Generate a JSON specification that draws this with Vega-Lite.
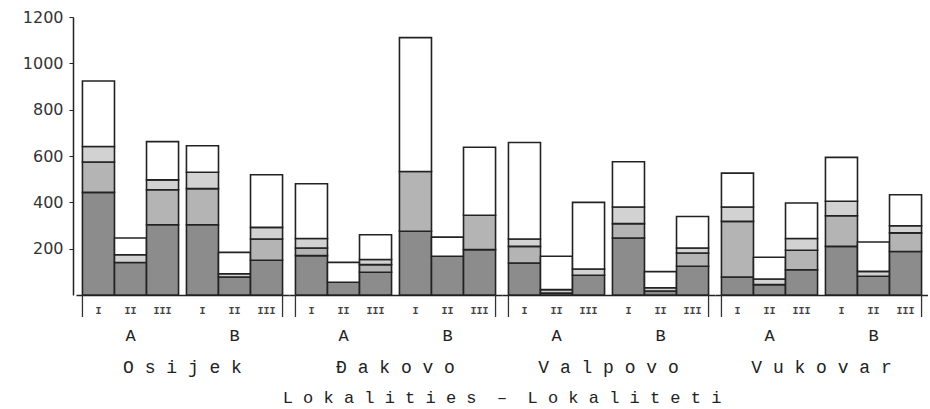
{
  "$schema": "https://vega.github.io/schema/vega-lite/v6.json",
  "padding": {"left": 22, "top": 9, "right": 0, "bottom": 0},
  "background": "#ffffff",
  "data": {"values": [
    {"locality":"Osijek","site":"A","period":"I","layer":"dark","o":1,"value":443},
    {"locality":"Osijek","site":"A","period":"I","layer":"medium","o":2,"value":131},
    {"locality":"Osijek","site":"A","period":"I","layer":"light","o":3,"value":67},
    {"locality":"Osijek","site":"A","period":"I","layer":"white","o":4,"value":283},
    {"locality":"Osijek","site":"A","period":"II","layer":"dark","o":1,"value":140},
    {"locality":"Osijek","site":"A","period":"II","layer":"light","o":3,"value":34},
    {"locality":"Osijek","site":"A","period":"II","layer":"white","o":4,"value":72},
    {"locality":"Osijek","site":"A","period":"III","layer":"dark","o":1,"value":303},
    {"locality":"Osijek","site":"A","period":"III","layer":"medium","o":2,"value":151},
    {"locality":"Osijek","site":"A","period":"III","layer":"light","o":3,"value":43},
    {"locality":"Osijek","site":"A","period":"III","layer":"white","o":4,"value":165},
    {"locality":"Osijek","site":"B","period":"I","layer":"dark","o":1,"value":303},
    {"locality":"Osijek","site":"B","period":"I","layer":"medium","o":2,"value":156},
    {"locality":"Osijek","site":"B","period":"I","layer":"light","o":3,"value":71},
    {"locality":"Osijek","site":"B","period":"I","layer":"white","o":4,"value":114},
    {"locality":"Osijek","site":"B","period":"II","layer":"dark","o":1,"value":78},
    {"locality":"Osijek","site":"B","period":"II","layer":"light","o":3,"value":14},
    {"locality":"Osijek","site":"B","period":"II","layer":"white","o":4,"value":92},
    {"locality":"Osijek","site":"B","period":"III","layer":"dark","o":1,"value":150},
    {"locality":"Osijek","site":"B","period":"III","layer":"medium","o":2,"value":92},
    {"locality":"Osijek","site":"B","period":"III","layer":"light","o":3,"value":50},
    {"locality":"Osijek","site":"B","period":"III","layer":"white","o":4,"value":227},
    {"locality":"Đakovo","site":"A","period":"I","layer":"dark","o":1,"value":170},
    {"locality":"Đakovo","site":"A","period":"I","layer":"medium","o":2,"value":33},
    {"locality":"Đakovo","site":"A","period":"I","layer":"light","o":3,"value":41},
    {"locality":"Đakovo","site":"A","period":"I","layer":"white","o":4,"value":236},
    {"locality":"Đakovo","site":"A","period":"II","layer":"dark","o":1,"value":55},
    {"locality":"Đakovo","site":"A","period":"II","layer":"white","o":4,"value":86},
    {"locality":"Đakovo","site":"A","period":"III","layer":"dark","o":1,"value":98},
    {"locality":"Đakovo","site":"A","period":"III","layer":"medium","o":2,"value":33},
    {"locality":"Đakovo","site":"A","period":"III","layer":"light","o":3,"value":22},
    {"locality":"Đakovo","site":"A","period":"III","layer":"white","o":4,"value":107},
    {"locality":"Đakovo","site":"B","period":"I","layer":"dark","o":1,"value":275},
    {"locality":"Đakovo","site":"B","period":"I","layer":"medium","o":2,"value":258},
    {"locality":"Đakovo","site":"B","period":"I","layer":"white","o":4,"value":578},
    {"locality":"Đakovo","site":"B","period":"II","layer":"dark","o":1,"value":167},
    {"locality":"Đakovo","site":"B","period":"II","layer":"white","o":4,"value":83},
    {"locality":"Đakovo","site":"B","period":"III","layer":"dark","o":1,"value":196},
    {"locality":"Đakovo","site":"B","period":"III","layer":"medium","o":2,"value":148},
    {"locality":"Đakovo","site":"B","period":"III","layer":"white","o":4,"value":294},
    {"locality":"Valpovo","site":"A","period":"I","layer":"dark","o":1,"value":138},
    {"locality":"Valpovo","site":"A","period":"I","layer":"medium","o":2,"value":72},
    {"locality":"Valpovo","site":"A","period":"I","layer":"light","o":3,"value":32},
    {"locality":"Valpovo","site":"A","period":"I","layer":"white","o":4,"value":416},
    {"locality":"Valpovo","site":"A","period":"II","layer":"dark","o":1,"value":8},
    {"locality":"Valpovo","site":"A","period":"II","layer":"light","o":3,"value":15},
    {"locality":"Valpovo","site":"A","period":"II","layer":"white","o":4,"value":144},
    {"locality":"Valpovo","site":"A","period":"III","layer":"dark","o":1,"value":85},
    {"locality":"Valpovo","site":"A","period":"III","layer":"light","o":3,"value":27},
    {"locality":"Valpovo","site":"A","period":"III","layer":"white","o":4,"value":288},
    {"locality":"Valpovo","site":"B","period":"I","layer":"dark","o":1,"value":246},
    {"locality":"Valpovo","site":"B","period":"I","layer":"medium","o":2,"value":62},
    {"locality":"Valpovo","site":"B","period":"I","layer":"light","o":3,"value":72},
    {"locality":"Valpovo","site":"B","period":"I","layer":"white","o":4,"value":195},
    {"locality":"Valpovo","site":"B","period":"II","layer":"dark","o":1,"value":17},
    {"locality":"Valpovo","site":"B","period":"II","layer":"light","o":3,"value":14},
    {"locality":"Valpovo","site":"B","period":"II","layer":"white","o":4,"value":70},
    {"locality":"Valpovo","site":"B","period":"III","layer":"dark","o":1,"value":124},
    {"locality":"Valpovo","site":"B","period":"III","layer":"medium","o":2,"value":57},
    {"locality":"Valpovo","site":"B","period":"III","layer":"light","o":3,"value":22},
    {"locality":"Valpovo","site":"B","period":"III","layer":"white","o":4,"value":136},
    {"locality":"Vukovar","site":"A","period":"I","layer":"dark","o":1,"value":78},
    {"locality":"Vukovar","site":"A","period":"I","layer":"medium","o":2,"value":240},
    {"locality":"Vukovar","site":"A","period":"I","layer":"light","o":3,"value":62},
    {"locality":"Vukovar","site":"A","period":"I","layer":"white","o":4,"value":146},
    {"locality":"Vukovar","site":"A","period":"II","layer":"dark","o":1,"value":45},
    {"locality":"Vukovar","site":"A","period":"II","layer":"light","o":3,"value":24},
    {"locality":"Vukovar","site":"A","period":"II","layer":"white","o":4,"value":94},
    {"locality":"Vukovar","site":"A","period":"III","layer":"dark","o":1,"value":109},
    {"locality":"Vukovar","site":"A","period":"III","layer":"medium","o":2,"value":84},
    {"locality":"Vukovar","site":"A","period":"III","layer":"light","o":3,"value":51},
    {"locality":"Vukovar","site":"A","period":"III","layer":"white","o":4,"value":153},
    {"locality":"Vukovar","site":"B","period":"I","layer":"dark","o":1,"value":210},
    {"locality":"Vukovar","site":"B","period":"I","layer":"medium","o":2,"value":132},
    {"locality":"Vukovar","site":"B","period":"I","layer":"light","o":3,"value":63},
    {"locality":"Vukovar","site":"B","period":"I","layer":"white","o":4,"value":189},
    {"locality":"Vukovar","site":"B","period":"II","layer":"dark","o":1,"value":81},
    {"locality":"Vukovar","site":"B","period":"II","layer":"light","o":3,"value":21},
    {"locality":"Vukovar","site":"B","period":"II","layer":"white","o":4,"value":127},
    {"locality":"Vukovar","site":"B","period":"III","layer":"dark","o":1,"value":188},
    {"locality":"Vukovar","site":"B","period":"III","layer":"medium","o":2,"value":80},
    {"locality":"Vukovar","site":"B","period":"III","layer":"light","o":3,"value":31},
    {"locality":"Vukovar","site":"B","period":"III","layer":"white","o":4,"value":134}
  ]},
  "facet": {
    "column": {
      "field": "locality",
      "type": "nominal",
      "sort": ["Osijek", "Đakovo", "Valpovo", "Vukovar"],
      "title": "L o k a l i t i e s\u00a0\u00a0–\u00a0\u00a0L o k a l i t e t i",
      "header": {
        "labelOrient": "bottom",
        "titleOrient": "bottom",
        "labelExpr": "join(split(datum.value, ''), ' ')",
        "labelFont": "Liberation Mono",
        "labelFontSize": 18,
        "labelColor": "#222222",
        "labelPadding": 16,
        "titleFont": "Liberation Mono",
        "titleFontSize": 17,
        "titleFontWeight": "normal",
        "titleColor": "#222222",
        "titlePadding": 3
      }
    }
  },
  "spacing": 0,
  "resolve": {"scale": {"x": "independent", "xOffset": "independent"}},
  "spec": {
    "width": 213,
    "height": 278,
    "encoding": {
      "x": {
        "field": "site", "type": "nominal",
        "scale": {"paddingInner": 0.076, "paddingOuter": 0.062},
        "axis": {
          "title": null, "labelAngle": 0, "ticks": false,
          "labelFont": "Liberation Mono", "labelFontSize": 17, "labelColor": "#222222",
          "labelPadding": 32, "domainColor": "#222222", "domainWidth": 1.5
        }
      }
    },
    "layer": [
      {
        "mark": {"type": "bar", "stroke": "#222222", "strokeWidth": 1.6},
        "encoding": {
          "xOffset": {"field": "period", "type": "nominal", "sort": ["I", "II", "III"], "scale": {"paddingInner": 0, "paddingOuter": 0}},
          "y": {
            "field": "value", "type": "quantitative", "stack": "zero",
            "scale": {"domain": [0, 1200], "nice": false},
            "axis": {
              "title": null, "values": [200, 400, 600, 800, 1000, 1200], "grid": false, "format": "d",
              "labelFont": "DejaVu Sans", "labelFontSize": 16, "labelColor": "#333333",
              "tickSize": 4, "tickColor": "#222222", "labelPadding": 6, "offset": 3,
              "domainColor": "#222222", "domainWidth": 1.5
            }
          },
          "color": {
            "field": "layer", "type": "nominal",
            "scale": {"domain": ["dark", "medium", "light", "white"], "range": ["#8c8c8c", "#b4b4b4", "#d2d2d2", "#ffffff"]},
            "legend": null
          },
          "order": {"field": "o", "type": "quantitative", "sort": "ascending"}
        }
      },
      {
        "transform": [{"filter": "datum.layer === 'dark'"}],
        "mark": {"type": "text", "dy": 16, "font": "Liberation Mono", "fontSize": 10, "fontWeight": "bold", "color": "#444444", "baseline": "middle"},
        "encoding": {
          "xOffset": {"field": "period", "type": "nominal", "sort": ["I", "II", "III"], "scale": {"paddingInner": 0, "paddingOuter": 0}},
          "y": {"datum": 0, "type": "quantitative"},
          "text": {"field": "period"}
        }
      },
      {
        "transform": [{"filter": "datum.layer === 'dark' && datum.period === 'I' && datum.site === 'A'"}],
        "mark": {"type": "rule", "color": "#333333", "strokeWidth": 1.3},
        "encoding": {
          "x": {"field": "site", "type": "nominal", "bandPosition": 0},
          "y": {"datum": 0, "type": "quantitative"},
          "y2": {"datum": -95}
        }
      },
      {
        "transform": [{"filter": "datum.layer === 'dark' && datum.period === 'I' && datum.site === 'B'"}],
        "mark": {"type": "rule", "color": "#333333", "strokeWidth": 1.3},
        "encoding": {
          "x": {"field": "site", "type": "nominal", "bandPosition": 1},
          "y": {"datum": 0, "type": "quantitative"},
          "y2": {"datum": -95}
        }
      }
    ]
  },
  "config": {
    "view": {"stroke": null}
  }
}
